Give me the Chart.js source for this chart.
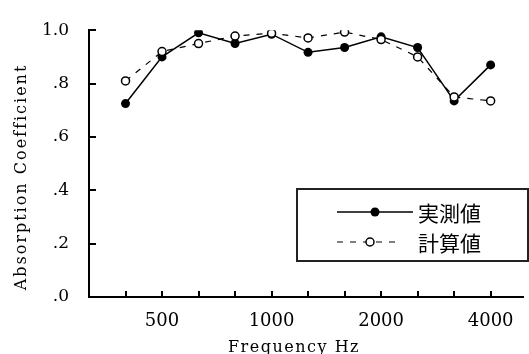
<!DOCTYPE html>
<html>
<head>
<meta charset="utf-8">
<script src="https://cdn.jsdelivr.net/npm/chart.js@4"></script>
<style>
html,body{margin:0;padding:0;background:#fff;overflow:hidden;}
#wrap{width:529px;height:354px;}
</style>
</head>
<body>
<div id="wrap"><canvas id="c" width="529" height="354"></canvas></div>
<script>
// ---- data ----
const bands = ['400','500','630','800','1000','1250','1600','2000','2500','3150','4000'];
const shownTicks = ['500','1000','2000','4000'];
const measured = [0.725, 0.90, 0.99, 0.95, 0.985, 0.917, 0.935, 0.975, 0.935, 0.735, 0.87];
const calculated = [0.81, 0.92, 0.95, 0.978, 0.989, 0.971, 0.993, 0.965, 0.90, 0.75, 0.735];
const yTicks = [0, 0.2, 0.4, 0.6, 0.8, 1.0];
const yLabels = ['.0', '.2', '.4', '.6', '.8', '1.0'];
const seriesNames = ['実測値', '計算値'];
const xTitle = 'Frequency Hz';
const yTitle = 'Absorption Coefficient';

const SERIF = '"DejaVu Serif", "Liberation Serif", serif';
const CJK = '"Noto Sans CJK JP", "Noto Sans CJK SC", sans-serif';

const toPts = arr => arr.map((v, i) => ({x: i, y: v}));

const inwardTicks = {
  id: 'inwardTicks',
  afterDraw(chart) {
    const ctx = chart.ctx;
    const xs = chart.scales.x, ys = chart.scales.y;
    const ca = chart.chartArea;
    ctx.save();
    ctx.strokeStyle = '#000';
    ctx.lineWidth = 2;
    ctx.beginPath();
    ys.ticks.forEach(t => {
      const y = Math.round(ys.getPixelForValue(t.value));
      ctx.moveTo(ca.left, y); ctx.lineTo(ca.left + 7, y);
    });
    xs.ticks.forEach(t => {
      const x = Math.round(xs.getPixelForValue(t.value));
      ctx.moveTo(x, ca.bottom); ctx.lineTo(x, ca.bottom - 6);
    });
    ctx.stroke();
    // axis titles
    ctx.fillStyle = '#000';
    ctx.font = '16px ' + SERIF;
    ctx.letterSpacing = '2px';
    ctx.textAlign = 'center';
    ctx.textBaseline = 'middle';
    ctx.save();
    ctx.translate(22, 177);
    ctx.rotate(-Math.PI / 2);
    ctx.fillText(yTitle, 0, 0);
    ctx.restore();
    ctx.letterSpacing = '1.5px';
    ctx.textAlign = 'left';
    ctx.textBaseline = 'alphabetic';
    ctx.fillText(xTitle, 228, 352);
    ctx.letterSpacing = '0px';
    ctx.restore();
  }
};

const boxLegend = {
  id: 'boxLegend',
  afterDraw(chart) {
    const ctx = chart.ctx;
    const ds = chart.data.datasets;
    ctx.save();
    ctx.fillStyle = '#fff';
    ctx.fillRect(297, 189, 231, 72);
    ctx.strokeStyle = '#222';
    ctx.lineWidth = 2;
    ctx.strokeRect(297, 189, 231, 72);
    const rows = [
      {d: ds.find(d => d.label === seriesNames[0]), y: 212, x0: 337, x1: 413, cx: 375},
      {d: ds.find(d => d.label === seriesNames[1]), y: 242, x0: 337, x1: 401, cx: 370}
    ];
    rows.forEach(r => {
      ctx.strokeStyle = r.d.borderColor;
      ctx.lineWidth = r.d.borderWidth;
      ctx.setLineDash(r.d.borderDash || []);
      ctx.beginPath();
      ctx.moveTo(r.x0, r.y); ctx.lineTo(r.x1, r.y);
      ctx.stroke();
      ctx.setLineDash([]);
      ctx.beginPath();
      ctx.arc(r.cx, r.y, r.d.pointRadius, 0, Math.PI * 2);
      ctx.fillStyle = r.d.pointBackgroundColor;
      ctx.fill();
      ctx.lineWidth = r.d.pointBorderWidth;
      ctx.strokeStyle = r.d.pointBorderColor;
      if (r.d.pointBorderWidth > 0) ctx.stroke();
      ctx.fillStyle = '#000';
      ctx.font = '21px ' + CJK;
      ctx.textAlign = 'left';
      ctx.textBaseline = 'middle';
      ctx.fillText(r.d.label, 418, r.y + 1);
    });
    ctx.restore();
  }
};

new Chart(document.getElementById('c'), {
  type: 'line',
  data: {
    datasets: [
      {
        label: seriesNames[1],
        data: toPts(calculated),
        order: 0,
        borderColor: '#000',
        borderWidth: 1.2,
        borderDash: [6, 7],
        pointRadius: 4,
        pointBackgroundColor: '#fff',
        pointBorderColor: '#000',
        pointBorderWidth: 1.5,
        tension: 0
      },
      {
        label: seriesNames[0],
        data: toPts(measured),
        order: 1,
        borderColor: '#000',
        borderWidth: 1.5,
        pointRadius: 4.5,
        pointBackgroundColor: '#000',
        pointBorderColor: '#000',
        pointBorderWidth: 0,
        tension: 0
      }
    ]
  },
  options: {
    responsive: false,
    animation: false,
    events: [],
    layout: {padding: {left: 0, top: 21, right: 0, bottom: 0}},
    plugins: {legend: {display: false}, tooltip: {enabled: false}},
    scales: {
      x: {
        type: 'linear',
        min: -1,
        max: 10.9,
        afterBuildTicks: s => { s.ticks = bands.map((b, i) => ({value: i})); },
        afterFit: s => { s.height = 57; },
        grid: {display: false, drawTicks: false},
        border: {display: true, color: '#000', width: 2},
        ticks: {
          autoSkip: false,
          maxRotation: 0,
          padding: 14,
          color: '#000',
          font: {family: SERIF, size: 18},
          callback: v => { const b = bands[v]; return shownTicks.includes(b) ? b : ''; }
        }
      },
      y: {
        min: 0,
        max: 1,
        afterBuildTicks: s => { s.ticks = yTicks.map(v => ({value: v})); },
        afterFit: s => { s.width = 89; },
        grid: {display: false, drawTicks: false},
        border: {display: true, color: '#000', width: 2},
        ticks: {
          padding: 20,
          color: '#000',
          font: {family: SERIF, size: 17},
          callback: v => yLabels[yTicks.findIndex(t => Math.abs(t - v) < 1e-6)]
        }
      }
    }
  },
  plugins: [inwardTicks, boxLegend]
});
</script>
</body>
</html>
